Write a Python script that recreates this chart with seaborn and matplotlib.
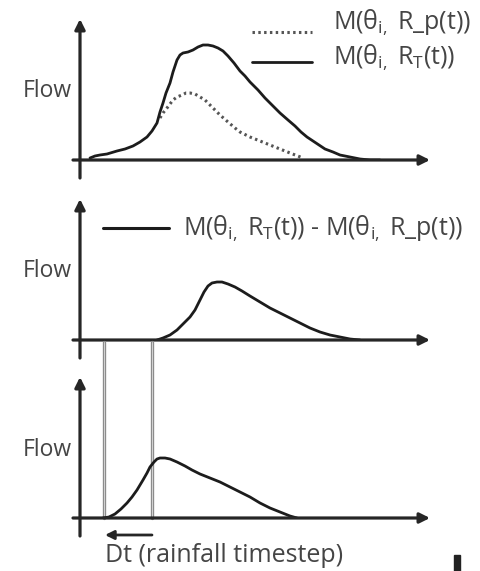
import matplotlib
matplotlib.use("Agg")
import matplotlib.pyplot as plt
from matplotlib.patches import Rectangle
import seaborn as sns
import pandas as pd

sns.set_theme(style="white")
plt.rcParams["font.family"] = ["Open Sans", "DejaVu Sans"]
plt.rcParams["mathtext.fontset"] = "custom"
plt.rcParams["mathtext.rm"] = "Open Sans"
plt.rcParams["mathtext.it"] = "Open Sans:italic"

# ---------------- data (time t, flow f, arbitrary units) ----------------
# Panel 1: total-rainfall response M(theta_i, R_T(t))
p1_total_t = [10, 15, 20, 27, 37, 45, 53, 60, 67, 72, 77, 80, 83, 86, 90, 93, 97,
              100, 103, 108, 113, 118, 123, 128, 133, 138, 143, 148, 154, 160, 165,
              170, 178, 185, 192, 200, 208, 215, 221, 227, 236, 245, 253, 260, 270,
              280, 290, 300]
p1_total_f = [2, 4, 5, 6, 9, 11, 14, 18, 23, 29, 37, 48, 57, 67, 77, 88, 100,
              105, 107, 108, 110, 113, 115, 115, 114, 112, 109, 104, 97, 89, 84,
              78, 70, 62, 55, 47, 40, 34, 28, 23, 17, 11, 8, 5, 3, 1, 0, 0]
# Panel 1: response to R_p(t)
p1_partial_t = [80, 83, 87, 90, 93, 97, 102, 106, 110, 115, 120, 125, 130, 135,
                140, 148, 155, 160, 170, 180, 190, 200, 210, 223]
p1_partial_f = [42, 47, 52, 56, 60, 63, 65, 67, 67, 66, 63, 60, 55, 50,
                45, 38, 32, 28, 23, 19, 15, 11, 7, 2]
# Panel 2: difference M(R_T) - M(R_p)
p2_diff_t = [77, 83, 90, 97, 105, 110, 115, 120, 124, 128, 132, 137, 142, 148,
             155, 162, 170, 180, 190, 200, 210, 220, 230, 240, 250, 260, 270, 280]
p2_diff_f = [0, 2, 5, 10, 18, 23, 30, 40, 48, 54, 57, 58, 58, 56,
             53, 49, 44, 38, 32, 27, 22, 17, 12, 8, 5, 3, 1, 0]
# Panel 3: difference shifted back by one rainfall timestep
p3_shift_t = [23, 29, 35, 41, 47, 52, 57, 63, 67, 70, 74, 77, 80, 85, 90, 97,
              105, 112, 120, 130, 140, 150, 160, 170, 180, 190, 200, 210, 217]
p3_shift_f = [0, 1, 4, 9, 15, 21, 28, 38, 45, 51, 56, 59, 60, 60, 59, 56,
              52, 48, 44, 40, 36, 31, 26, 21, 15, 10, 6, 2, 0]
# Rainfall timestep markers (time)
dt_marks = [24, 72]

legend1_labels = ["M(θ$_{\\mathrm{i},}$ R_p(t))", "M(θ$_{\\mathrm{i},}$ R$_{\\mathrm{T}}$(t))"]
legend2_label = "M(θ$_{\\mathrm{i},}$ R$_{\\mathrm{T}}$(t)) - M(θ$_{\\mathrm{i},}$ R_p(t))"
y_label = "Flow"
x_note = "Dt (rainfall timestep)"

# ---------------- figure ----------------
W, H = 481, 571
fig = plt.figure(figsize=(W / 100, H / 100), dpi=100)
fig.patch.set_facecolor("white")

AX_COL = "#262626"
LINE_COL = "#1c1c1c"
TXT_COL = "#454545"
XMAX, YMAX = 350, 141
LEG_FS = 18

origins = [160, 340, 518]
label_y = [91, 271, 450]
axes = []
for oy in origins:
    ax = fig.add_axes([80 / W, (H - oy) / H, 350 / W, YMAX / H])
    axes.append(ax)


def draw_axes(ax):
    arrow = dict(arrowstyle="-|>", lw=2.3, color=AX_COL, mutation_scale=15,
                 shrinkA=0, shrinkB=0)
    ax.annotate("", xy=(0, YMAX), xytext=(0, -18), arrowprops=arrow,
                annotation_clip=False)
    ax.annotate("", xy=(XMAX, 0), xytext=(-7, 0), arrowprops=arrow,
                annotation_clip=False)


def finish(ax):
    ax.set_xlim(0, XMAX)
    ax.set_ylim(0, YMAX)
    ax.set_axis_off()


curve_kw = dict(color=LINE_COL, lw=2.0, estimator=None, sort=False,
                solid_joinstyle="round", solid_capstyle="round", zorder=3)

# Panel 1 curves
ax = axes[0]
df_total = pd.DataFrame({"t": p1_total_t, "f": p1_total_f})
df_part = pd.DataFrame({"t": p1_partial_t, "f": p1_partial_f})
sns.lineplot(data=df_total, x="t", y="f", ax=ax, **curve_kw)
sns.lineplot(data=df_part, x="t", y="f", ax=ax, color="#555555", lw=2.2,
             linestyle=(0, (0.8, 1.1)), estimator=None, sort=False, zorder=2)
finish(ax)
ax.plot([172, 232], [128, 128], color="#555555", lw=2.2, linestyle=(0, (0.8, 1.1)),
        clip_on=False)
ax.plot([172, 232], [98, 98], color=LINE_COL, lw=2.0, clip_on=False)
ax.text(253, 137, legend1_labels[0], ha="left", va="center", fontsize=LEG_FS,
        color=TXT_COL, clip_on=False)
ax.text(253, 102, legend1_labels[1], ha="left", va="center", fontsize=LEG_FS,
        color=TXT_COL, clip_on=False)

# Panel 2 curve
ax = axes[1]
df_diff = pd.DataFrame({"t": p2_diff_t, "f": p2_diff_f})
sns.lineplot(data=df_diff, x="t", y="f", ax=ax, **curve_kw)
finish(ax)
ax.plot([23, 89], [112, 112], color=LINE_COL, lw=2.2, clip_on=False)
ax.text(103, 111, legend2_label, ha="left", va="center", fontsize=LEG_FS,
        color=TXT_COL, clip_on=False)

# Panel 3 curve
ax = axes[2]
df_shift = pd.DataFrame({"t": p3_shift_t, "f": p3_shift_f})
sns.lineplot(data=df_shift, x="t", y="f", ax=ax, **curve_kw)
finish(ax)
for xm in dt_marks:
    ax.plot([xm, xm], [0, 176], color="#8c8c8c", lw=2.4, clip_on=False, zorder=1)
    ax.plot([xm, xm], [0, 176], color="#d4d4d4", lw=0.7, clip_on=False, zorder=1)
ax.annotate("", xy=(dt_marks[0] + 1, -17), xytext=(dt_marks[1], -17),
            arrowprops=dict(arrowstyle="-|>", lw=2.0, color=AX_COL,
                            mutation_scale=13, shrinkA=0, shrinkB=0),
            annotation_clip=False)

for ax in axes:
    draw_axes(ax)
for ly in label_y:
    fig.text(47 / W, 1 - ly / H, y_label, ha="center", va="center", fontsize=16.5,
             color=TXT_COL)

fig.text(105 / W, 1 - 556 / H, x_note, ha="left", va="center", fontsize=18,
         color=TXT_COL)

# cropped mark at the bottom-right edge
fig.patches.append(Rectangle((454 / W, 0), 6 / W, 16 / H, transform=fig.transFigure,
                             color="#222222", figure=fig))

fig.savefig("out.png", dpi=100)
